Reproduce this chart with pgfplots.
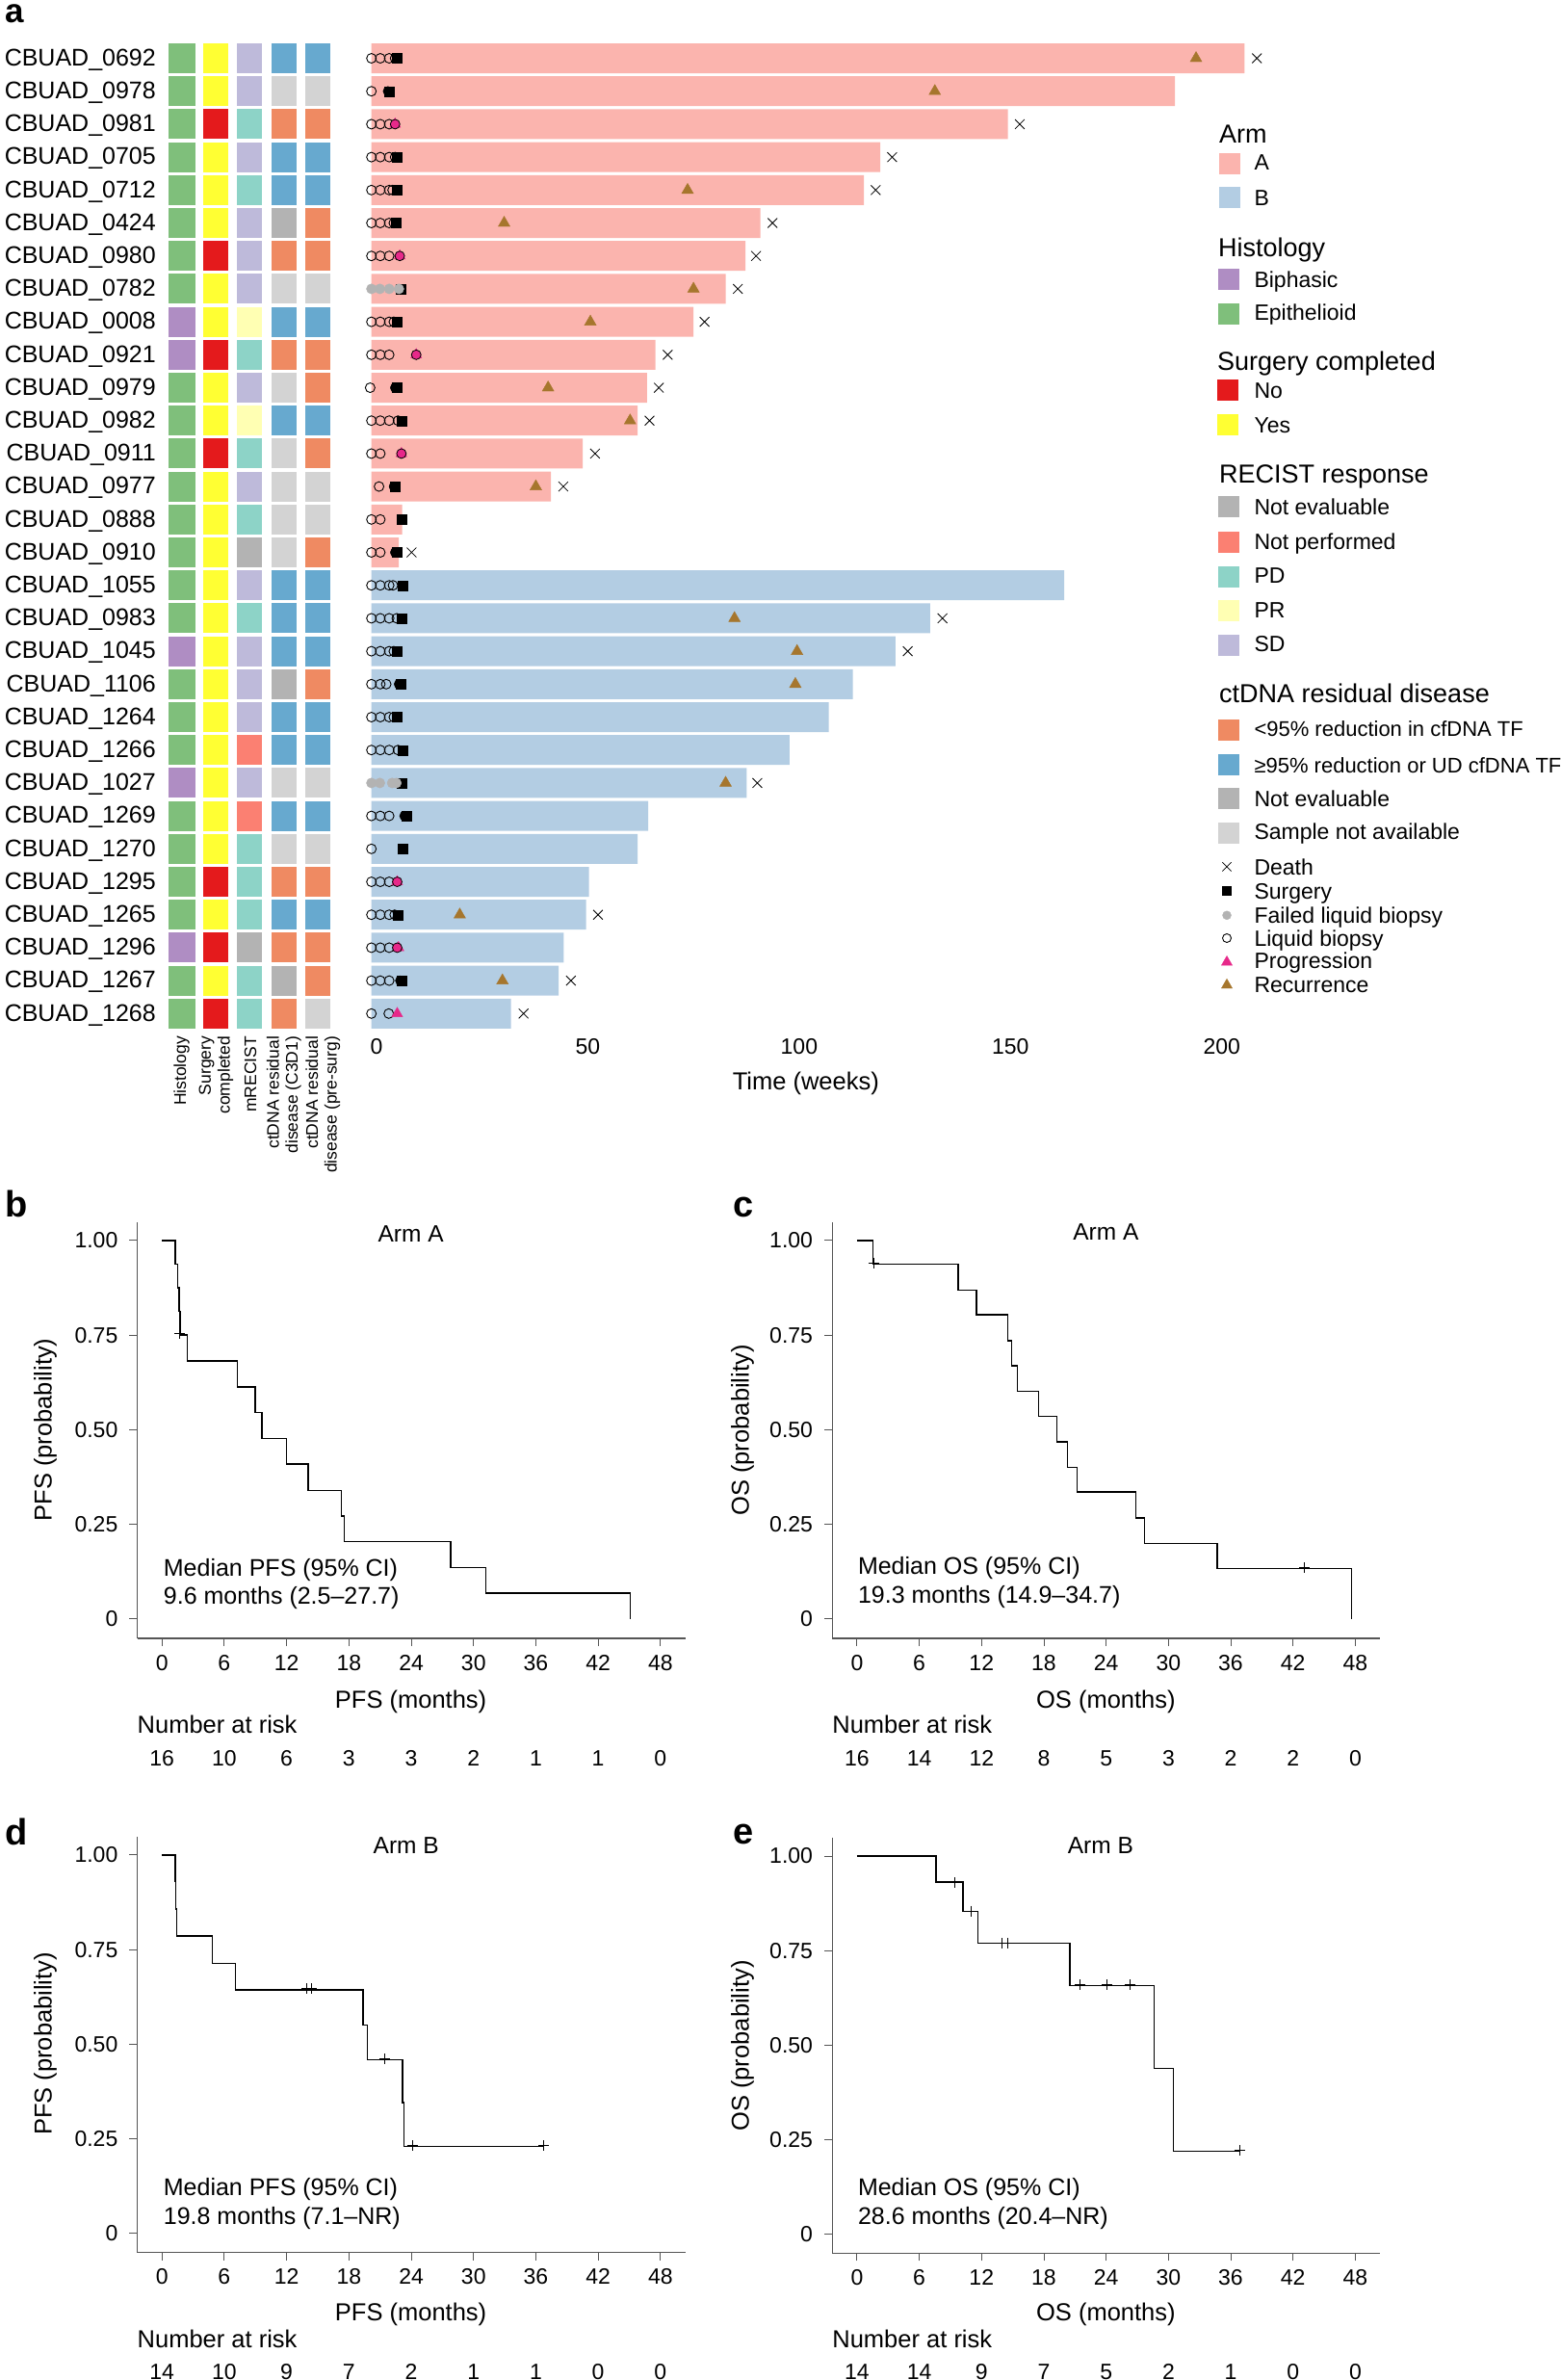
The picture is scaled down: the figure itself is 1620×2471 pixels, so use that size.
\documentclass[border=0pt]{standalone}
\usepackage{fontspec}
\setmainfont{Liberation Sans}
\usepackage{pgfplots}
\usepackage{pgfplotstable}
\pgfplotsset{compat=1.18}
\newcommand\fs[1]{\fontsize{#1}{#1}\selectfont}

\definecolor{cArmA}{HTML}{FBB4AE}
\definecolor{cArmB}{HTML}{B3CDE3}
\definecolor{cBi}{HTML}{AF8DC3}
\definecolor{cEp}{HTML}{7FBF7B}
\definecolor{cNo}{HTML}{E41A1C}
\definecolor{cYes}{HTML}{FFFF33}
\definecolor{cNE}{HTML}{B3B3B3}
\definecolor{cNP}{HTML}{FB8072}
\definecolor{cPD}{HTML}{8DD3C7}
\definecolor{cPR}{HTML}{FFFFB3}
\definecolor{cSD}{HTML}{BEBADA}
\definecolor{cLo}{HTML}{EF8A62}
\definecolor{cHi}{HTML}{67A9CF}
\definecolor{cNA}{HTML}{D3D3D3}
\definecolor{cProg}{HTML}{E7298A}
\definecolor{cRec}{HTML}{A6762D}
\definecolor{cAxis}{HTML}{555555}

\pgfdeclareplotmark{cellw}{\pgfpathrectangle{\pgfpoint{-14pt}{-15.5pt}}{\pgfpoint{28pt}{31pt}}\pgfusepathqfill}
\pgfdeclareplotmark{cell}{\pgfpathrectangle{\pgfpoint{-13pt}{-15.5pt}}{\pgfpoint{26pt}{31pt}}\pgfusepathqfill}
\pgfdeclareplotmark{swatch}{\pgfpathrectangle{\pgfpoint{-11pt}{-11pt}}{\pgfpoint{22pt}{22pt}}\pgfusepathqfill}

% row, histology, surgery, mRECIST, ctDNA C3D1, ctDNA pre-surg
\pgfplotstableread{
row hist surg rec cfa cfb
1 E Y SD HI HI
2 E Y SD NA NA
3 E N PD LO LO
4 E Y SD HI HI
5 E Y PD HI HI
6 E Y SD XE LO
7 E N SD LO LO
8 E Y SD NA NA
9 B Y PR HI HI
10 B N PD LO LO
11 E Y SD NA LO
12 E Y PR HI HI
13 E N PD NA LO
14 E Y SD NA NA
15 E Y PD NA NA
16 E Y XE NA LO
17 E Y SD HI HI
18 E Y PD HI HI
19 B Y SD HI HI
20 E Y SD XE LO
21 E Y SD HI HI
22 E Y NP HI HI
23 B Y SD NA NA
24 E Y NP HI HI
25 E Y PD NA NA
26 E N PD LO LO
27 E Y PD HI HI
28 B N XE LO LO
29 E Y PD XE LO
30 E N PD LO NA
}\cells

% follow-up bars, weeks
\pgfplotstableread{
w row
206.6 1
190.1 2
150.6 3
120.4 4
116.5 5
92.0 6
88.5 7
83.8 8
76.2 9
67.2 10
65.2 11
63.0 12
50.0 13
42.5 14
7.3 15
6.5 16
}\armA
\pgfplotstableread{
w row
163.9 17
132.2 18
124.0 19
113.9 20
108.2 21
98.9 22
88.8 23
65.5 24
63.0 25
51.5 26
50.8 27
45.5 28
44.3 29
33.0 30
}\armB

\begin{document}
\begin{tikzpicture}[x=1pt,y=1pt]
\path[use as bounding box] (0,0) rectangle (1620,-2471);

% --- panel a: heat map columns
\begin{axis}[
  at={(174.6pt,-1069.4pt)},anchor=south west,scale only axis,
  width=168pt,height=1026pt,
  xmin=0.59,xmax=5.36,ymin=0.5,ymax=30.5,y dir=reverse,clip=false,
  axis line style={draw=none},major tick length=0pt,xtick=\empty,
  ytick={1,...,30},
  yticklabels={CBUAD\_0692,CBUAD\_0978,CBUAD\_0981,CBUAD\_0705,CBUAD\_0712,CBUAD\_0424,CBUAD\_0980,CBUAD\_0782,CBUAD\_0008,CBUAD\_0921,CBUAD\_0979,CBUAD\_0982,CBUAD\_0911,CBUAD\_0977,CBUAD\_0888,CBUAD\_0910,CBUAD\_1055,CBUAD\_0983,CBUAD\_1045,CBUAD\_1106,CBUAD\_1264,CBUAD\_1266,CBUAD\_1027,CBUAD\_1269,CBUAD\_1270,CBUAD\_1295,CBUAD\_1265,CBUAD\_1296,CBUAD\_1267,CBUAD\_1268},
  yticklabel style={font=\fs{25},inner xsep=0pt,xshift=-12.6pt,yshift=-1.5pt},
  heat/.style={only marks,scatter,scatter src=explicit symbolic,
    scatter/classes={E={mark=cellw,color=cEp},B={mark=cellw,color=cBi},
      Y={mark=cell,color=cYes},N={mark=cell,color=cNo},
      SD={mark=cell,color=cSD},PD={mark=cell,color=cPD},PR={mark=cell,color=cPR},
      NP={mark=cell,color=cNP},XE={mark=cell,color=cNE},
      LO={mark=cell,color=cLo},HI={mark=cell,color=cHi},NA={mark=cell,color=cNA}}},
]
\addplot[heat] table[x expr=1,y=row,meta=hist] {\cells};
\addplot[heat] table[x expr=2,y=row,meta=surg] {\cells};
\addplot[heat] table[x expr=3,y=row,meta=rec] {\cells};
\addplot[heat] table[x expr=4,y=row,meta=cfa] {\cells};
\addplot[heat] table[x expr=5,y=row,meta=cfb] {\cells};
\end{axis}

% --- panel a: swimmers
\begin{axis}[
  at={(385.7pt,-1069.4pt)},anchor=south west,scale only axis,
  width=934.3pt,height=1026pt,
  xmin=0,xmax=212.87,ymin=0.5,ymax=30.5,y dir=reverse,clip=false,
  axis line style={draw=none},major tick length=0pt,ytick=\empty,
  xtick={1.2,51.2,101.2,151.2,201.2},xticklabels={0,50,100,150,200},
  xticklabel style={font=\fs{23},inner ysep=0pt,yshift=-9pt},
]
\addplot[xbar,bar width=31pt,bar shift=0pt,fill=cArmA,draw=none] table[x=w,y=row] {\armA};
\addplot[xbar,bar width=31pt,bar shift=0pt,fill=cArmB,draw=none] table[x=w,y=row] {\armB};
% surgery
\addplot[only marks,mark=square*,mark size=5pt,black] coordinates {
 (6.0,1)(4.2,2)(6.0,4)(6.0,5)(5.8,6)(6.9,8)(6.0,9)(6.0,11)(7.1,12)(5.6,14)(7.1,15)(6.0,16)
 (7.5,17)(7.1,18)(6.0,19)(6.9,20)(6.0,21)(7.5,22)(7.2,23)(8.3,24)(7.4,25)(6.3,27)(7.2,29)};
% biopsy overlapping the surgery mark
\addplot[only marks,mark=*,mark size=5pt,black] coordinates {
 (3.9,2)(5.6,11)(5.3,14)(5.6,16)(6.5,20)(7.8,24)(6.8,29)};
% failed liquid biopsy
\addplot[only marks,mark=*,mark size=5.2pt,cNE,mark options={draw=none}] coordinates {
 (0,8)(2,8)(4.2,8)(6.5,8)(0,23)(2,23)(4.9,23)(5.9,23)};
% liquid biopsy
\addplot[only marks,mark=o,mark size=5pt,black,mark options={line width=0.9pt}] coordinates {
 (0,1)(2.1,1)(4.2,1)(5.6,1)(0,2)(0,3)(2.1,3)(4.2,3)(0,4)(2.1,4)(4.2,4)(5.6,4)
 (0,5)(2.1,5)(4.2,5)(5.0,5)(0,6)(2.1,6)(4.2,6)(5.3,6)(0,7)(2.1,7)(4.2,7)
 (0,9)(2.1,9)(4.2,9)(5.3,9)(0,10)(2.1,10)(4.2,10)(-0.3,11)(0,12)(2.1,12)(4.2,12)(6.3,12)
 (0,13)(2.1,13)(1.8,14)(0,15)(2.1,15)(0,16)(2.1,16)
 (0,17)(2.1,17)(4.2,17)(5.1,17)(0,18)(2.1,18)(4.2,18)(6,18)(0,19)(2.1,19)(4.2,19)(5.3,19)
 (0,20)(2.1,20)(3.5,20)(0,21)(2.1,21)(4.2,21)(5.3,21)(0,22)(2.1,22)(4.2,22)(6.3,22)
 (0,24)(2.1,24)(4.2,24)(0,25)(0,26)(2.1,26)(4.2,26)(0,27)(2.1,27)(4.2,27)(5.5,27)
 (0,28)(2.1,28)(4.2,28)(0,29)(2.1,29)(4.2,29)(0,30)(4.1,30)};
% progression
\addplot[only marks,mark=triangle*,mark size=6.5pt,cProg,mark options={draw=none}] coordinates {
 (5.6,3)(6.7,7)(10.6,10)(7.1,13)(6.1,26)(6.4,28)(6.1,30)};
\addplot[only marks,mark=*,mark size=5pt,black,mark options={fill=cProg,line width=0.8pt}] coordinates {
 (5.6,3)(6.7,7)(10.6,10)(7.1,13)(6.1,26)(6.1,28)};
% recurrence
\addplot[only marks,mark=triangle*,mark size=7pt,cRec,mark options={draw=none}] coordinates {
 (195.1,1)(133.3,2)(74.8,5)(31.4,6)(76.2,8)(51.8,9)(41.8,11)(61.2,12)(38.9,14)
 (85.9,18)(100.7,19)(100.3,20)(83.8,23)(20.9,27)(31,29)};
% death
\addplot[only marks,mark=x,mark size=7pt,black,mark options={line width=0.8pt}] coordinates {
 (209.5,1)(153.4,3)(123.2,4)(119.3,5)(94.9,6)(91,7)(86.7,8)(78.8,9)(70.1,10)(68,11)
 (65.8,12)(52.9,13)(45.4,14)(9.5,16)(135.1,18)(126.9,19)(91.3,23)(53.6,27)(47.2,29)(36,30)};
\end{axis}

% --- legend keys
\begin{axis}[
  at={(0pt,-2471pt)},anchor=south west,scale only axis,width=1620pt,height=2471pt,
  xmin=0,xmax=1620,ymin=-2471,ymax=0,hide axis,clip=false,
  key/.style={only marks,mark=swatch,color=#1},
]
\addplot[key=cArmA] coordinates {(1277,-170.2)};
\addplot[key=cArmB] coordinates {(1277,-204.9)};
\addplot[key=cBi] coordinates {(1276,-290)};
\addplot[key=cEp] coordinates {(1276,-326.2)};
\addplot[key=cNo] coordinates {(1275,-405)};
\addplot[key=cYes] coordinates {(1275,-441.3)};
\addplot[key=cNE] coordinates {(1276,-526.4)};
\addplot[key=cNP] coordinates {(1276,-562.6)};
\addplot[key=cPD] coordinates {(1276,-598.9)};
\addplot[key=cPR] coordinates {(1276,-633.6)};
\addplot[key=cSD] coordinates {(1276,-669.8)};
\addplot[key=cLo] coordinates {(1276,-758)};
\addplot[key=cHi] coordinates {(1276,-794.3)};
\addplot[key=cNE] coordinates {(1276,-829)};
\addplot[key=cNA] coordinates {(1276,-865.2)};
\addplot[only marks,mark=x,mark size=6.5pt,black,mark options={line width=0.8pt}] coordinates {(1274,-899.9)};
\addplot[only marks,mark=square*,mark size=4.5pt,black] coordinates {(1274,-925)};
\addplot[only marks,mark=*,mark size=4.5pt,cNE,mark options={draw=none}] coordinates {(1274,-950.3)};
\addplot[only marks,mark=o,mark size=4.5pt,black,mark options={line width=0.9pt}] coordinates {(1274,-974)};
\addplot[only marks,mark=triangle*,mark size=6.5pt,cProg,mark options={draw=none}] coordinates {(1274,-999)};
\addplot[only marks,mark=triangle*,mark size=6.5pt,cRec,mark options={draw=none}] coordinates {(1274,-1022.8)};
\end{axis}

\pgfplotsset{km/.style={
  anchor=south west,scale only axis,
  axis x line=bottom,axis y line=left,axis line style={-,cAxis,line width=1.2pt},
  tick style={cAxis,line width=0.9pt},tick align=outside,major tick length=8pt,
  xtick={0,6,...,48},xticklabels={0,6,12,18,24,30,36,42,48},
  ytick={0,0.25,0.5,0.75,1},yticklabels={0,0.25,0.50,0.75,1.00},
  xticklabel style={font=\fs{23},inner ysep=0pt,yshift=-9pt},
  yticklabel style={font=\fs{23},inner xsep=0pt,xshift=-12pt},
  clip=false,
  km line/.style={const plot,black,line width=1.4pt,no marks},
  km cens/.style={only marks,mark=+,mark size=5.5pt,black,mark options={line width=1pt}},
}}

% --- panel b
\begin{axis}[km,at={(142.5pt,-1701pt)},width=569.1pt,height=432pt,
  xmin=-2.38,xmax=50.38,ymin=-0.0514,ymax=1.048]
\addplot[km line] coordinates {(0,1)(1.3,0.9375)(1.53,0.875)(1.66,0.8125)(1.75,0.75)(2.43,0.682)
 (7.28,0.613)(8.99,0.545)(9.62,0.477)(12,0.409)(14.07,0.34)(17.26,0.272)(17.57,0.204)
 (27.8,0.136)(31.2,0.068)(45.1,0)};
\addplot[km cens] coordinates {(1.7,0.755)};
\end{axis}

% --- panel c
\begin{axis}[km,at={(864.2pt,-1701pt)},width=568.8pt,height=432pt,
  xmin=-2.384,xmax=50.38,ymin=-0.0514,ymax=1.048]
\addplot[km line] coordinates {(0,1)(1.53,0.9375)(9.75,0.869)(11.5,0.804)(14.5,0.735)(14.9,0.669)
 (15.46,0.602)(17.5,0.535)(19.25,0.468)(20.3,0.401)(21.2,0.335)(26.87,0.267)(27.7,0.2)
 (34.7,0.133)(47.66,0)};
\addplot[km cens] coordinates {(1.62,0.94)(43.14,0.135)};
\end{axis}

% --- panel d
\begin{axis}[km,at={(142.5pt,-2338.6pt)},width=569.1pt,height=431.8pt,
  xmin=-2.38,xmax=50.38,ymin=-0.0509,ymax=1.0486]
\addplot[km line] coordinates {(0,1)(1.3,0.929)(1.35,0.857)(1.4,0.786)(4.85,0.714)(7.1,0.643)
 (19.37,0.551)(19.8,0.458)(23.15,0.345)(23.28,0.229)(36.8,0.229)};
\addplot[km cens] coordinates {(13.98,0.646)(14.43,0.646)(21.48,0.46)(24.09,0.232)(36.76,0.232)};
\end{axis}

% --- panel e
\begin{axis}[km,at={(864.2pt,-2339.3pt)},width=568.8pt,height=431.8pt,
  xmin=-2.384,xmax=50.38,ymin=-0.0496,ymax=1.0497]
\addplot[km line] coordinates {(0,1)(7.62,0.931)(10.2,0.854)(11.63,0.769)(20.5,0.658)(28.6,0.439)
 (30.5,0.22)(36.84,0.22)};
\addplot[km cens] coordinates {(9.45,0.93)(11,0.855)(13.97,0.77)(14.48,0.77)(21.5,0.66)(24.1,0.66)
 (26.3,0.66)(36.84,0.222)};
\end{axis}

% --- text
\tikzset{
  tl/.style={anchor=mid west,inner sep=0pt,yshift=-5.5pt,font=\fs{#1}},tl/.default=23,
  tc/.style={anchor=mid,inner sep=0pt,yshift=-5.5pt,font=\fs{#1}},tc/.default=23,
  yl/.style={anchor=mid,inner sep=0pt,rotate=90,font=\fs{25.5}},
  let/.style={anchor=base west,inner sep=0pt,font=\bfseries\fs{38}},
}
\newcommand\lab[3]{\node[tl=#1] at (1302.3,-#2) {#3};}
\newcommand\head[3]{\node[tl=27] at (#1,-#2) {#3};}
\newcommand\riskrow[4]{\foreach \v [count=\i from 0] in {#4} {\node[tc=23] at ({#1+\i*#2},-#3) {\v};}}

\node[let,font=\bfseries\fs{35}] at (5,-23) {a};
\node[let] at (5,-1263) {b};
\node[let] at (761,-1263) {c};
\node[let] at (5,-1915) {d};
\node[let] at (761,-1914) {e};

% column labels
\tikzset{coll/.style={rotate=90,anchor=east,align=right,inner sep=0pt,font=\fs{17.5},execute at begin node={\baselineskip=19.6pt}}}
\node[coll] at (188.7,-1075.7) {Histology};
\node[coll] at (224.5,-1075.7) {Surgery\\completed};
\node[coll] at (260,-1075.7) {mRECIST};
\node[coll] at (294.8,-1075.7) {ctDNA residual\\disease (C3D1)};
\node[coll] at (335.4,-1075.7) {ctDNA residual\\disease (pre-surg)};
\node[tc=25.5] at (836.8,-1123.6) {Time (weeks)};

% legend text
\head{1266}{140.3}{Arm}
\lab{23}{168.6}{A}
\lab{23}{204.9}{B}
\head{1265}{258.5}{Histology}
\lab{23}{290}{Biphasic}
\lab{23}{324.7}{Epithelioid}
\head{1264}{376.7}{Surgery completed}
\lab{23}{405}{No}
\lab{23}{441.3}{Yes}
\head{1266}{493.3}{RECIST response}
\lab{23}{526.4}{Not evaluable}
\lab{23}{562.6}{Not performed}
\lab{23}{597.3}{PD}
\lab{23}{633.6}{PR}
\lab{23}{668.2}{SD}
\head{1266}{721.8}{ctDNA residual disease}
\lab{22}{756.5}{<95\% reduction in cfDNA TF}
\lab{22}{794.3}{≥95\% reduction or UD cfDNA TF}
\lab{23}{829}{Not evaluable}
\lab{23}{863.6}{Sample not available}
\lab{23}{899.9}{Death}
\lab{23}{925}{Surgery}
\lab{23}{950.3}{Failed liquid biopsy}
\lab{23}{974}{Liquid biopsy}
\lab{23}{997.6}{Progression}
\lab{23}{1022.8}{Recurrence}

% panel b text
\node[yl] at (51,-1484.5) {PFS (probability)};
\node[tc=24.5] at (426.6,-1281) {Arm A};
\node[tl=25] at (169.7,-1628) {Median PFS (95\% CI)};
\node[tl=25] at (169.7,-1657.6) {9.6 months (2.5–27.7)};
\node[tc=25.5] at (426.6,-1765) {PFS (months)};
\node[tl=25.5] at (142.5,-1791.4) {Number at risk};
\riskrow{168.2}{64.7}{1825}{16,10,6,3,3,2,1,1,0}

% panel c text
\node[yl] at (775,-1485) {OS (probability)};
\node[tc=24.5] at (1148.4,-1279) {Arm A};
\node[tl=25] at (890.8,-1626) {Median OS (95\% CI)};
\node[tl=25] at (890.8,-1656) {19.3 months (14.9–34.7)};
\node[tc=25.5] at (1148.4,-1765) {OS (months)};
\node[tl=25.5] at (864.2,-1791) {Number at risk};
\riskrow{889.9}{64.7}{1825}{16,14,12,8,5,3,2,2,0}

% panel d text
\node[yl] at (51,-2122) {PFS (probability)};
\node[tc=24.5] at (421.7,-1916.5) {Arm B};
\node[tl=25] at (169.7,-2271) {Median PFS (95\% CI)};
\node[tl=25] at (169.7,-2301.5) {19.8 months (7.1–NR)};
\node[tc=25.5] at (426.6,-2401.7) {PFS (months)};
\node[tl=25.5] at (142.5,-2429.8) {Number at risk};
\riskrow{168.2}{64.7}{2462}{14,10,9,7,2,1,1,0,0}

% panel e text
\node[yl] at (775,-2124) {OS (probability)};
\node[tc=24.5] at (1142.9,-1916.5) {Arm B};
\node[tl=25] at (890.8,-2271) {Median OS (95\% CI)};
\node[tl=25] at (890.8,-2301.5) {28.6 months (20.4–NR)};
\node[tc=25.5] at (1148.4,-2401.7) {OS (months)};
\node[tl=25.5] at (864.2,-2429.8) {Number at risk};
\riskrow{889.9}{64.7}{2462}{14,14,9,7,5,2,1,0,0}
\end{tikzpicture}
\end{document}
